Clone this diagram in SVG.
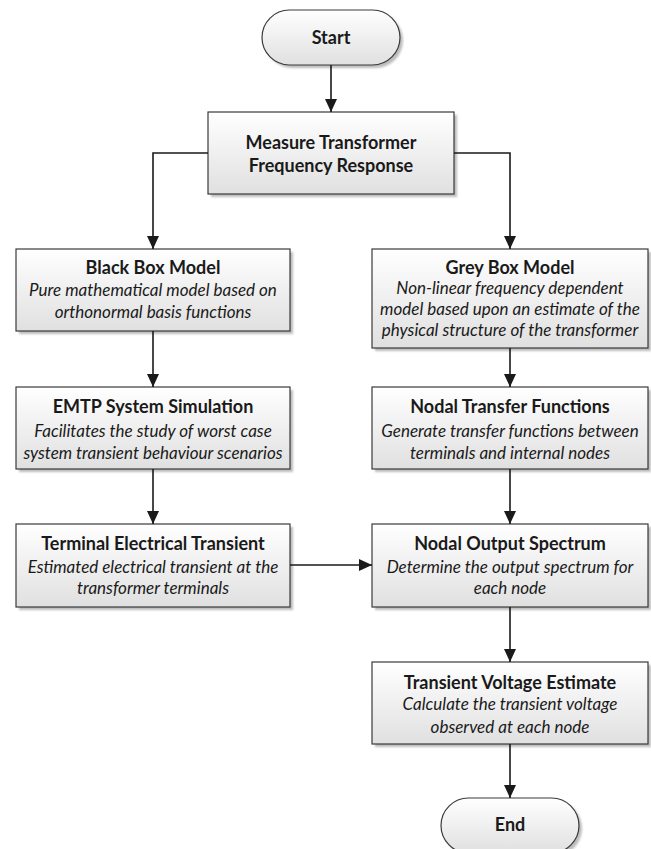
<svg xmlns="http://www.w3.org/2000/svg" width="651" height="849" viewBox="0 0 651 849">
<defs>
<linearGradient id="g" x1="0" y1="0" x2="0" y2="1">
<stop offset="0" stop-color="#ffffff"/>
<stop offset="1" stop-color="#e0e0e0"/>
</linearGradient>
<filter id="sh" x="-10%" y="-10%" width="130%" height="140%">
<feGaussianBlur stdDeviation="1"/>
</filter>
<marker id="ah" viewBox="0 0 13 12" refX="13" refY="6" markerWidth="13" markerHeight="12" markerUnits="userSpaceOnUse" orient="auto">
<path d="M0,0 L13,6 L0,12 Z" fill="#1a1a1a"/>
</marker>
</defs>
<style>
.box{fill:url(#g);stroke:#3a3a3a;stroke-width:1.2}
.shd{fill:#bcbcbc;filter:url(#sh)}
.t{font-family:Lato,"Open Sans","Liberation Sans",sans-serif;font-size:17px;fill:#1a1a1a;text-anchor:middle}
.b{font-weight:bold;font-size:18px}
.i{font-style:italic}
.c{fill:none;stroke:#1a1a1a;stroke-width:1.6;marker-end:url(#ah)}
</style>
<rect width="651" height="849" fill="#ffffff"/>
<g id="start">
<rect class="shd" x="265" y="13" width="138" height="55" rx="27.5"/>
<rect class="box" x="262" y="10" width="138" height="55" rx="27.5"/>
<text class="t b" x="331" y="44">Start</text>
</g>
<g id="measure">
<rect class="shd" x="211" y="115" width="246" height="82"/>
<rect class="box" x="208" y="112" width="246" height="82"/>
<text class="t b" x="331" y="149">Measure Transformer</text>
<text class="t b" x="331" y="172">Frequency Response</text>
</g>
<g id="blackbox">
<rect class="shd" x="19" y="252" width="274" height="82"/>
<rect class="box" x="16" y="249" width="274" height="82"/>
<text class="t b" x="153" y="274">Black Box Model</text>
<text class="t i" x="153" y="296">Pure mathematical model based on</text>
<text class="t i" x="153" y="318">orthonormal basis functions</text>
</g>
<g id="greybox">
<rect class="shd" x="375" y="252" width="276" height="99"/>
<rect class="box" x="372" y="249" width="276" height="99"/>
<text class="t b" x="510" y="274">Grey Box Model</text>
<text class="t i" x="510" y="294">Non-linear frequency dependent</text>
<text class="t i" x="510" y="315">model based upon an estimate of the</text>
<text class="t i" x="510" y="336">physical structure of the transformer</text>
</g>
<g id="emtp">
<rect class="shd" x="19" y="390" width="274" height="82"/>
<rect class="box" x="16" y="387" width="274" height="82"/>
<text class="t b" x="153" y="413">EMTP System Simulation</text>
<text class="t i" x="153" y="437">Facilitates the study of worst case</text>
<text class="t i" x="153" y="459">system transient behaviour scenarios</text>
</g>
<g id="nodaltransfer">
<rect class="shd" x="375" y="390" width="276" height="82"/>
<rect class="box" x="372" y="387" width="276" height="82"/>
<text class="t b" x="510" y="413">Nodal Transfer Functions</text>
<text class="t i" x="510" y="437">Generate transfer functions between</text>
<text class="t i" x="510" y="459">terminals and internal nodes</text>
</g>
<g id="terminal">
<rect class="shd" x="19" y="527" width="274" height="83"/>
<rect class="box" x="16" y="524" width="274" height="83"/>
<text class="t b" x="153" y="550">Terminal Electrical Transient</text>
<text class="t i" x="153" y="573">Estimated electrical transient at the</text>
<text class="t i" x="153" y="594">transformer terminals</text>
</g>
<g id="nodaloutput">
<rect class="shd" x="375" y="527" width="276" height="83"/>
<rect class="box" x="372" y="524" width="276" height="83"/>
<text class="t b" x="510" y="550">Nodal Output Spectrum</text>
<text class="t i" x="510" y="573">Determine the output spectrum for</text>
<text class="t i" x="510" y="594">each node</text>
</g>
<g id="transientvoltage">
<rect class="shd" x="375" y="665" width="276" height="82"/>
<rect class="box" x="372" y="662" width="276" height="82"/>
<text class="t b" x="510" y="689">Transient Voltage Estimate</text>
<text class="t i" x="510" y="710">Calculate the transient voltage</text>
<text class="t i" x="510" y="733">observed at each node</text>
</g>
<g id="end">
<rect class="shd" x="444" y="801" width="138" height="55" rx="27.5"/>
<rect class="box" x="441" y="798" width="138" height="55" rx="27.5"/>
<text class="t b" x="510" y="831">End</text>
</g>
<g id="connectors">
<path class="c" d="M331,65 L331,112"/>
<path class="c" d="M208,153 L153,153 L153,249"/>
<path class="c" d="M454,153 L510,153 L510,249"/>
<path class="c" d="M153,331 L153,387"/>
<path class="c" d="M153,469 L153,524"/>
<path class="c" d="M510,348 L510,387"/>
<path class="c" d="M510,469 L510,524"/>
<path class="c" d="M290,565 L372,565"/>
<path class="c" d="M510,607 L510,662"/>
<path class="c" d="M510,744 L510,798"/>
</g>
</svg>
